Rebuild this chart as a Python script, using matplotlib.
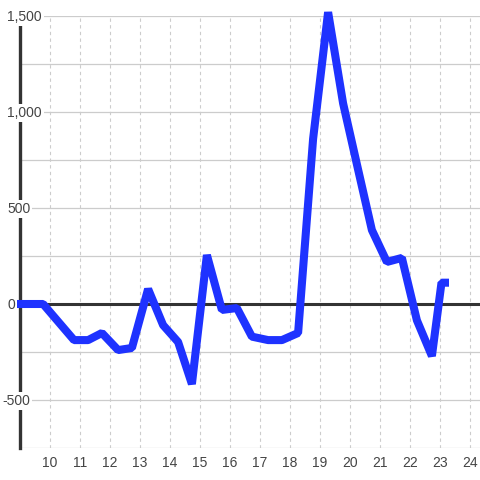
import numpy as np
import matplotlib
matplotlib.use("Agg")
import matplotlib.pyplot as plt
import matplotlib.transforms as mtransforms

# series (x in hours, y values)
x_vals = [8.9, 9.77, 10.8, 11.27, 11.73, 12.27, 12.73, 13.27, 13.77, 14.27,
          14.73, 15.23, 15.73, 16.23, 16.73, 17.27, 17.73, 18.27, 18.77, 19.27,
          19.77, 20.27, 20.73, 21.23, 21.73, 22.23, 22.73, 23.05, 23.3]
y_vals = [0, 0, -188, -188, -151, -240, -229, 78, -110, -198,
          -417, 255, -31, -21, -170, -188, -188, -151, 860, 1520,
          1045, 700, 385, 219, 240, -85, -271, 111, 111]

x_ticks = list(range(10, 25))
y_grid = list(range(-750, 1501, 250))
y_labels = [-500, 0, 500, 1000, 1500]

plt.rcParams['font.family'] = ['Liberation Sans', 'DejaVu Sans']

fig = plt.figure(figsize=(4.8, 4.8), dpi=100)
ax = fig.add_axes([20 / 480, 32 / 480, 460 / 480, 432 / 480])

ax.set_xlim(9, 9 + 460 / 30)
ax.set_ylim(-750, 1500)

for side in ["top", "right", "bottom"]:
    ax.spines[side].set_visible(False)
ax.spines["left"].set_color("#333333")
ax.spines["left"].set_linewidth(2.4)
ax.spines["left"].set_zorder(2.5)

ax.set_yticks(y_grid)
ax.set_xticks(x_ticks)
ax.set_xticklabels([str(t) for t in x_ticks])
ax.tick_params(axis="both", length=0)
ax.tick_params(axis="y", labelleft=False)
ax.tick_params(axis="x", labelsize=10, labelcolor="#444444", pad=6)

ax.grid(axis="y", color="#cccccc", linewidth=0.9, linestyle="-")
ax.grid(axis="x", color="#cccccc", linewidth=0.8, linestyle=(0, (3, 3)))
ax.set_axisbelow(True)

ax.axhline(0, color="#333333", linewidth=2.2, zorder=2)

ax.plot(x_vals, y_vals, color="#1e32ff", linewidth=5.8,
        solid_joinstyle="bevel", solid_capstyle="butt",
        clip_on=False, zorder=3)

# y labels sit over the spine on a white box, nudged a pixel down
ytrans = ax.get_yaxis_transform() + mtransforms.ScaledTranslation(0, -1.2 / 100, fig.dpi_scale_trans)
for v in y_labels:
    txt = f"{v:,}"
    # negative sign hangs to the left of the label column
    xpos = -13 / 460 if v >= 0 else -18 / 460
    ax.text(xpos, v, txt, transform=ytrans, ha="left", va="center",
            fontsize=10, color="#444444", zorder=5, clip_on=False,
            bbox=dict(facecolor="white", edgecolor="none", pad=1.5))

fig.savefig("out.png", dpi=100, facecolor="white")
